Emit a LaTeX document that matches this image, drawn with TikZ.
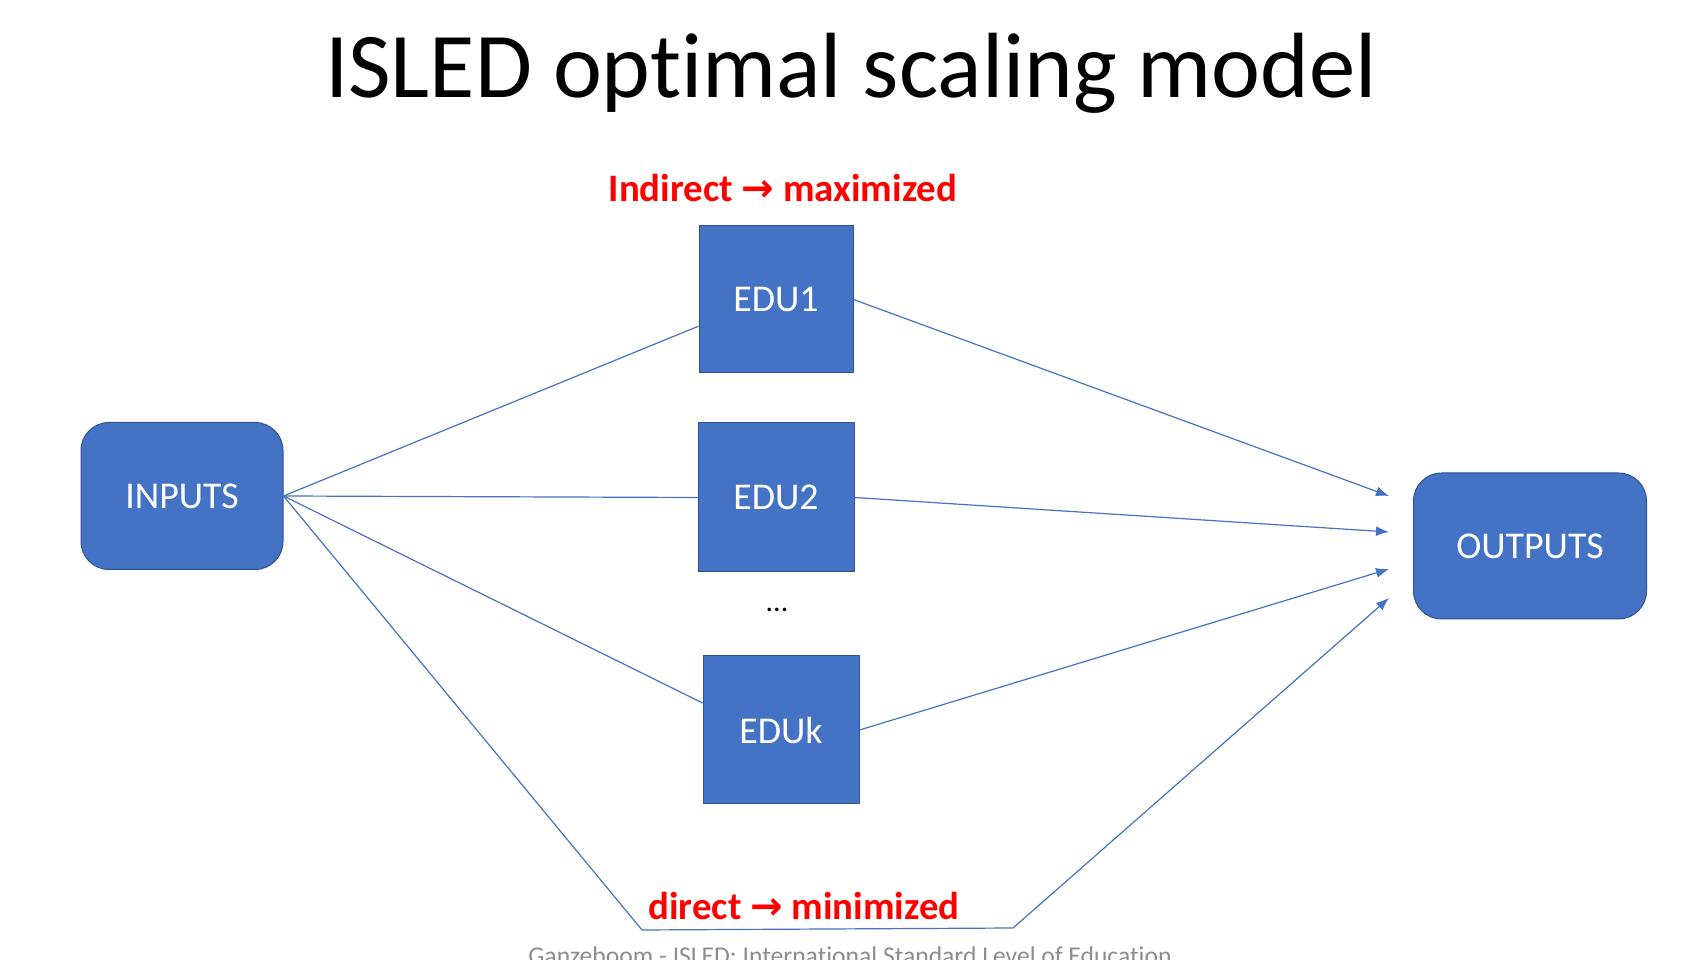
\documentclass[tikz,border=0pt]{standalone}
\usepackage{fontspec}
\setmainfont{Carlito}[Ligatures=NoCommon]
\newfontfamily\arrowfont{DejaVu Sans}
\usetikzlibrary{arrows.meta}
\definecolor{boxblue}{HTML}{4472C4}
\definecolor{boxedge}{HTML}{2F528F}
\definecolor{linkblue}{HTML}{4472C4}
\definecolor{notered}{HTML}{FF0000}
\definecolor{footgray}{HTML}{8C8C8C}
\tikzset{
  edubox/.style={draw=boxedge,fill=boxblue,text=white,inner sep=0pt,line width=1bp,
    font=\fontsize{38}{42}\selectfont},
  endbox/.style={edubox,rounded corners=28bp},
  link/.style={draw=linkblue,line width=1.2bp},
  note/.style={text=notered,anchor=base,inner sep=0pt,font=\bfseries\fontsize{39}{44}\selectfont},
}
\begin{document}
\begin{tikzpicture}[>={Latex[length=13bp,width=10bp]},line join=bevel,]
%%
\useasboundingbox (0bp,0bp) rectangle (1687bp,960bp);
\clip (0bp,0bp) rectangle (1687bp,960bp);
\node (node_title) at (851bp,862bp) [anchor=base,inner sep=0pt,font=\fontsize{93}{100}\selectfont] {ISLED optimal scaling model};
\node (node_indirect) at (783bp,758bp) [note] {Indirect {\arrowfont\bfseries →} maximized};
\node (node_direct) at (804bp,40bp) [note] {direct {\arrowfont\bfseries →} minimized};
\node (node_footer) at (850bp,-4.5bp) [anchor=base,inner sep=0pt,text=footgray,font=\fontsize{25.7}{30}\selectfont] {Ganzeboom - ISLED: International Standard Level of Education};
%
  \node (node_inputs) at (182bp,464bp) [endbox,minimum width=202bp,minimum height=147bp] {INPUTS};
  \node (node_edu1) at (776bp,660.5bp) [edubox,minimum width=154bp,minimum height=147bp] {EDU1};
  \node (node_edu2) at (776bp,462.5bp) [edubox,minimum width=156bp,minimum height=149bp] {EDU2};
  \node (node_dots) at (777bp,350bp) [inner sep=0pt,font=\fontsize{30}{34}\selectfont] {...};
  \node (node_eduk) at (781bp,230bp) [edubox,minimum width=156bp,minimum height=148bp] {EDUk};
  \node (node_outputs) at (1530bp,414bp) [endbox,minimum width=233bp,minimum height=146bp] {OUTPUTS};
%
  \coordinate (tip_1) at (1389bp,464bp);
  \coordinate (tip_2) at (1389bp,428bp);
  \coordinate (tip_3) at (1389bp,391bp);
  \coordinate (tip_4) at (1389bp,362bp);
  \coordinate (bend_1) at (642bp,30bp);
  \coordinate (bend_2) at (1013bp,32bp);
%
  \draw [link] (node_inputs.east) -- (node_edu1.199);
  \draw [link] (node_inputs.east) -- (node_edu2.west);
  \draw [link] (node_inputs.east) -- (node_eduk.161);
  \draw [link,->] (node_edu1.east) -- (tip_1);
  \draw [link,->] (node_edu2.east) -- (tip_2);
  \draw [link,->] (node_eduk.east) -- (tip_3);
  \draw [link,->] (node_inputs.east) -- (bend_1) -- (bend_2) -- (tip_4);
%
\end{tikzpicture}
\end{document}
